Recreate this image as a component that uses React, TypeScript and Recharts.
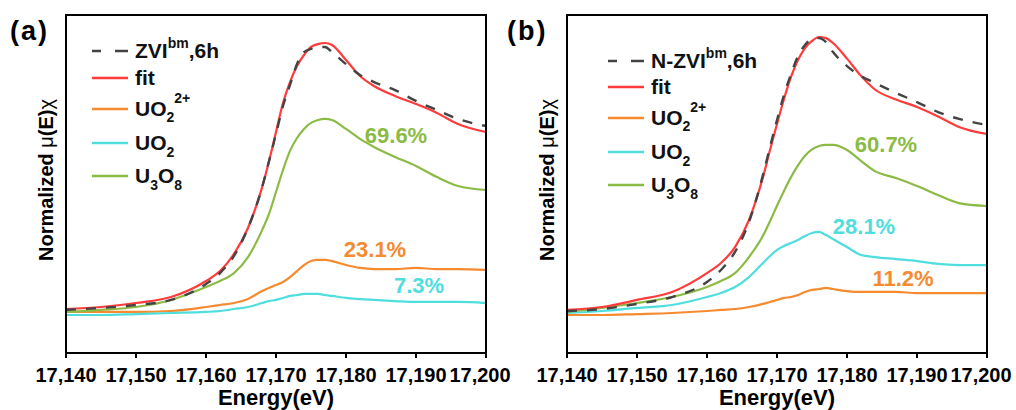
import React from 'react';
import { LineChart, Line, XAxis, YAxis } from 'recharts';

const FONT = '"Liberation Sans", Arial, sans-serif';

// shared energy grid (eV)
const energy = [17140, 17145, 17150, 17155, 17160, 17162, 17164, 17166, 17168, 17169, 17170, 17171, 17172, 17173, 17174, 17175, 17176, 17177, 17178, 17180, 17182, 17184, 17187, 17190, 17193, 17196, 17200];
const xTicks = [17140, 17150, 17160, 17170, 17180, 17190, 17200];

// panel (a) ZVI-bm, 6h
const dataA = [0.017, 0.028, 0.044, 0.072, 0.160, 0.220, 0.314, 0.468, 0.690, 0.835, 0.985, 1.139, 1.255, 1.370, 1.436, 1.453, 1.464, 1.464, 1.436, 1.370, 1.310, 1.271, 1.227, 1.167, 1.117, 1.068, 1.029];
const fitA = [0.022, 0.033, 0.055, 0.088, 0.176, 0.231, 0.325, 0.468, 0.690, 0.835, 0.996, 1.156, 1.271, 1.359, 1.420, 1.464, 1.480, 1.486, 1.475, 1.392, 1.304, 1.249, 1.194, 1.150, 1.101, 1.040, 0.996];
const uo22A = [0.006, 0.006, 0.006, 0.011, 0.033, 0.044, 0.055, 0.077, 0.121, 0.138, 0.154, 0.171, 0.198, 0.231, 0.264, 0.286, 0.292, 0.292, 0.286, 0.264, 0.248, 0.242, 0.242, 0.248, 0.242, 0.242, 0.237];
const uo2A = [-0.011, -0.011, -0.006, 0, 0.006, 0.011, 0.022, 0.033, 0.055, 0.066, 0.072, 0.083, 0.094, 0.099, 0.105, 0.105, 0.105, 0.099, 0.094, 0.083, 0.077, 0.072, 0.066, 0.061, 0.061, 0.061, 0.055];
const u3o8A = [0.006, 0.017, 0.033, 0.072, 0.143, 0.176, 0.220, 0.308, 0.455, 0.545, 0.666, 0.787, 0.892, 0.963, 1.013, 1.046, 1.062, 1.068, 1.062, 1.013, 0.958, 0.914, 0.859, 0.809, 0.748, 0.699, 0.677];

// panel (b) N-ZVI-bm, 6h
const dataB = [0.011, 0.022, 0.050, 0.088, 0.171, 0.237, 0.336, 0.501, 0.760, 0.914, 1.062, 1.200, 1.315, 1.414, 1.475, 1.508, 1.513, 1.491, 1.436, 1.359, 1.304, 1.266, 1.211, 1.161, 1.106, 1.068, 1.035];
const fitB = [0.017, 0.033, 0.072, 0.116, 0.220, 0.275, 0.363, 0.512, 0.748, 0.897, 1.040, 1.178, 1.299, 1.392, 1.458, 1.497, 1.519, 1.513, 1.486, 1.400, 1.305, 1.230, 1.175, 1.134, 1.082, 1.024, 0.985];
const uo22B = [-0.011, -0.011, -0.006, 0, 0.011, 0.017, 0.022, 0.033, 0.050, 0.061, 0.072, 0.083, 0.088, 0.099, 0.116, 0.127, 0.132, 0.138, 0.132, 0.121, 0.116, 0.116, 0.116, 0.110, 0.110, 0.110, 0.110];
const uo2B = [0, 0.011, 0.028, 0.044, 0.088, 0.110, 0.143, 0.198, 0.275, 0.314, 0.347, 0.369, 0.385, 0.402, 0.424, 0.440, 0.446, 0.429, 0.407, 0.363, 0.319, 0.308, 0.297, 0.286, 0.270, 0.264, 0.264];
const u3o8B = [0.006, 0.028, 0.055, 0.088, 0.143, 0.176, 0.220, 0.308, 0.425, 0.505, 0.590, 0.672, 0.748, 0.812, 0.865, 0.900, 0.919, 0.925, 0.925, 0.897, 0.837, 0.781, 0.743, 0.699, 0.649, 0.605, 0.589];

const percentA = ['69.6%', '23.1%', '7.3%'];
const percentB = ['60.7%', '28.1%', '11.2%'];

const COLORS = {
    data: '#444444',
    fit: '#ff3b3b',
    uo22: '#f58a2e',
    uo2: '#4fdede',
    u3o8: '#8cbb45',
};

const Y_DOMAIN = [-0.22, 1.64];

const buildRows = (d: number[], fit: number[], uo22: number[], uo2: number[], u3o8: number[]) =>
    energy.map((e, i) => ({ e, data: d[i], fit: fit[i], uo22: uo22[i], uo2: uo2[i], u3o8: u3o8[i] }));

const fmt = (v: number) => v.toLocaleString('en-US');

const axisLine = { stroke: '#000', strokeWidth: 2 };

// last label sits a little left of its tick, as in the original
const EnergyTick = (props: any) => {
    const { x, y, payload } = props;
    const dx = payload.value === 17200 ? -6 : 0;
    return (
        <text x={x + dx} y={y} dy={15} textAnchor="middle" fill="#000" fontSize={20} fontWeight={700} fontFamily={FONT}>
            {fmt(payload.value)}
        </text>
    );
};

function Panel({ rows, width, right }: { rows: any[]; width: number; right: number }) {
    return (
        <LineChart width={width} height={410} data={rows} margin={{ top: 15, right, bottom: 0, left: 66 }}>
            <XAxis
                dataKey="e"
                type="number"
                domain={[17140, 17200]}
                ticks={xTicks}
                interval={0}
                height={57}
                tickSize={5}
                tickMargin={9}
                axisLine={axisLine}
                tickLine={axisLine}
                tick={<EnergyTick />}
            />
            <YAxis type="number" domain={Y_DOMAIN} allowDataOverflow hide />
            <Line type="monotone" dataKey="uo22" stroke={COLORS.uo22} strokeWidth={2.2} dot={false} isAnimationActive={false} />
            <Line type="monotone" dataKey="uo2" stroke={COLORS.uo2} strokeWidth={2.2} dot={false} isAnimationActive={false} />
            <Line type="monotone" dataKey="u3o8" stroke={COLORS.u3o8} strokeWidth={2.2} dot={false} isAnimationActive={false} />
            <Line type="monotone" dataKey="fit" stroke={COLORS.fit} strokeWidth={2.2} dot={false} isAnimationActive={false} />
            <Line type="monotone" dataKey="data" stroke={COLORS.data} strokeWidth={2.4} strokeDasharray="10 10" dot={false} isAnimationActive={false} />
        </LineChart>
    );
}

const SUB = 14;

function Legend({ x, rowsY, sample }: { x: number; rowsY: number[]; sample: string }) {
    const tx = x + 43;
    const items = [
        { color: COLORS.data, dash: true, label: <><tspan>{sample}</tspan><tspan dy={-10} fontSize={SUB}>bm</tspan><tspan dy={10}>,6h</tspan></> },
        { color: COLORS.fit, label: <tspan>fit</tspan> },
        { color: COLORS.uo22, label: <><tspan>UO</tspan><tspan dy={6} fontSize={SUB}>2</tspan><tspan dy={-19} fontSize={SUB}>2+</tspan></> },
        { color: COLORS.uo2, label: <><tspan>UO</tspan><tspan dy={7} fontSize={SUB}>2</tspan></> },
        { color: COLORS.u3o8, label: <><tspan>U</tspan><tspan dy={7} fontSize={SUB}>3</tspan><tspan dy={-7}>O</tspan><tspan dy={7} fontSize={SUB}>8</tspan></> },
    ];
    return (
        <g>
            {items.map((it, i) => (
                <g key={i}>
                    <line x1={x} x2={x + 36} y1={rowsY[i]} y2={rowsY[i]} stroke={it.color} strokeWidth={2.5} strokeDasharray={it.dash ? '9 14 14' : undefined} />
                    <text x={tx} y={rowsY[i] + 7} fontSize={21} fontWeight={700} fill="#111" fontFamily={FONT}>
                        {it.label}
                    </text>
                </g>
            ))}
        </g>
    );
}

function Overlay() {
    const pct = { fontSize: 22, fontWeight: 700, fontFamily: FONT, textAnchor: 'middle' as const };
    const yLabel = (cx: number) => (
        <text transform={`translate(${cx},180) rotate(-90)`} textAnchor="middle" fontSize={20} fontWeight={700} fontFamily={FONT} fill="#000">
            Normalized <tspan fontWeight={400}>μ</tspan>(E)<tspan fontWeight={400}>χ</tspan>
        </text>
    );
    return (
        <svg width={1016} height={410} style={{ position: 'absolute', left: 0, top: 0, pointerEvents: 'none' }}>
            <rect x={66} y={15} width={420} height={338} fill="none" stroke="#000" strokeWidth={2} />
            <rect x={567} y={15} width={420} height={338} fill="none" stroke="#000" strokeWidth={2} />
            <text x={10} y={40} fontSize={27} fontWeight={700} fontFamily={FONT} letterSpacing={2}>(a)</text>
            <text x={507} y={40} fontSize={27} fontWeight={700} fontFamily={FONT} letterSpacing={2}>(b)</text>
            {yLabel(53)}
            {yLabel(554)}
            <text x={276} y={405} textAnchor="middle" fontSize={22} fontWeight={700} fontFamily={FONT}>Energy(eV)</text>
            <text x={777} y={405} textAnchor="middle" fontSize={22} fontWeight={700} fontFamily={FONT}>Energy(eV)</text>
            <Legend x={92} rowsY={[51, 78, 109, 143, 176]} sample="ZVI" />
            <Legend x={608} rowsY={[61, 87, 118, 152, 185]} sample="N-ZVI" />
            <text x={396} y={143} fill={COLORS.u3o8} {...pct}>{percentA[0]}</text>
            <text x={375} y={257} fill={COLORS.uo22} {...pct}>{percentA[1]}</text>
            <text x={419} y={293} fill={COLORS.uo2} {...pct}>{percentA[2]}</text>
            <text x={886} y={152} fill={COLORS.u3o8} {...pct}>{percentB[0]}</text>
            <text x={864} y={234} fill={COLORS.uo2} {...pct}>{percentB[1]}</text>
            <text x={903} y={286} fill={COLORS.uo22} {...pct}>{percentB[2]}</text>
        </svg>
    );
}

export default function App() {
    const rowsA = buildRows(dataA, fitA, uo22A, uo2A, u3o8A);
    const rowsB = buildRows(dataB, fitB, uo22B, uo2B, u3o8B);
    return (
        <div style={{ position: 'absolute', left: 0, top: 0, width: 1016, height: 410, background: '#fff', overflow: 'hidden' }}>
            <div style={{ position: 'absolute', left: 0, top: 0 }}>
                <Panel rows={rowsA} width={530} right={44} />
            </div>
            <div style={{ position: 'absolute', left: 501, top: 0 }}>
                <Panel rows={rowsB} width={515} right={29} />
            </div>
            <Overlay />
        </div>
    );
}
